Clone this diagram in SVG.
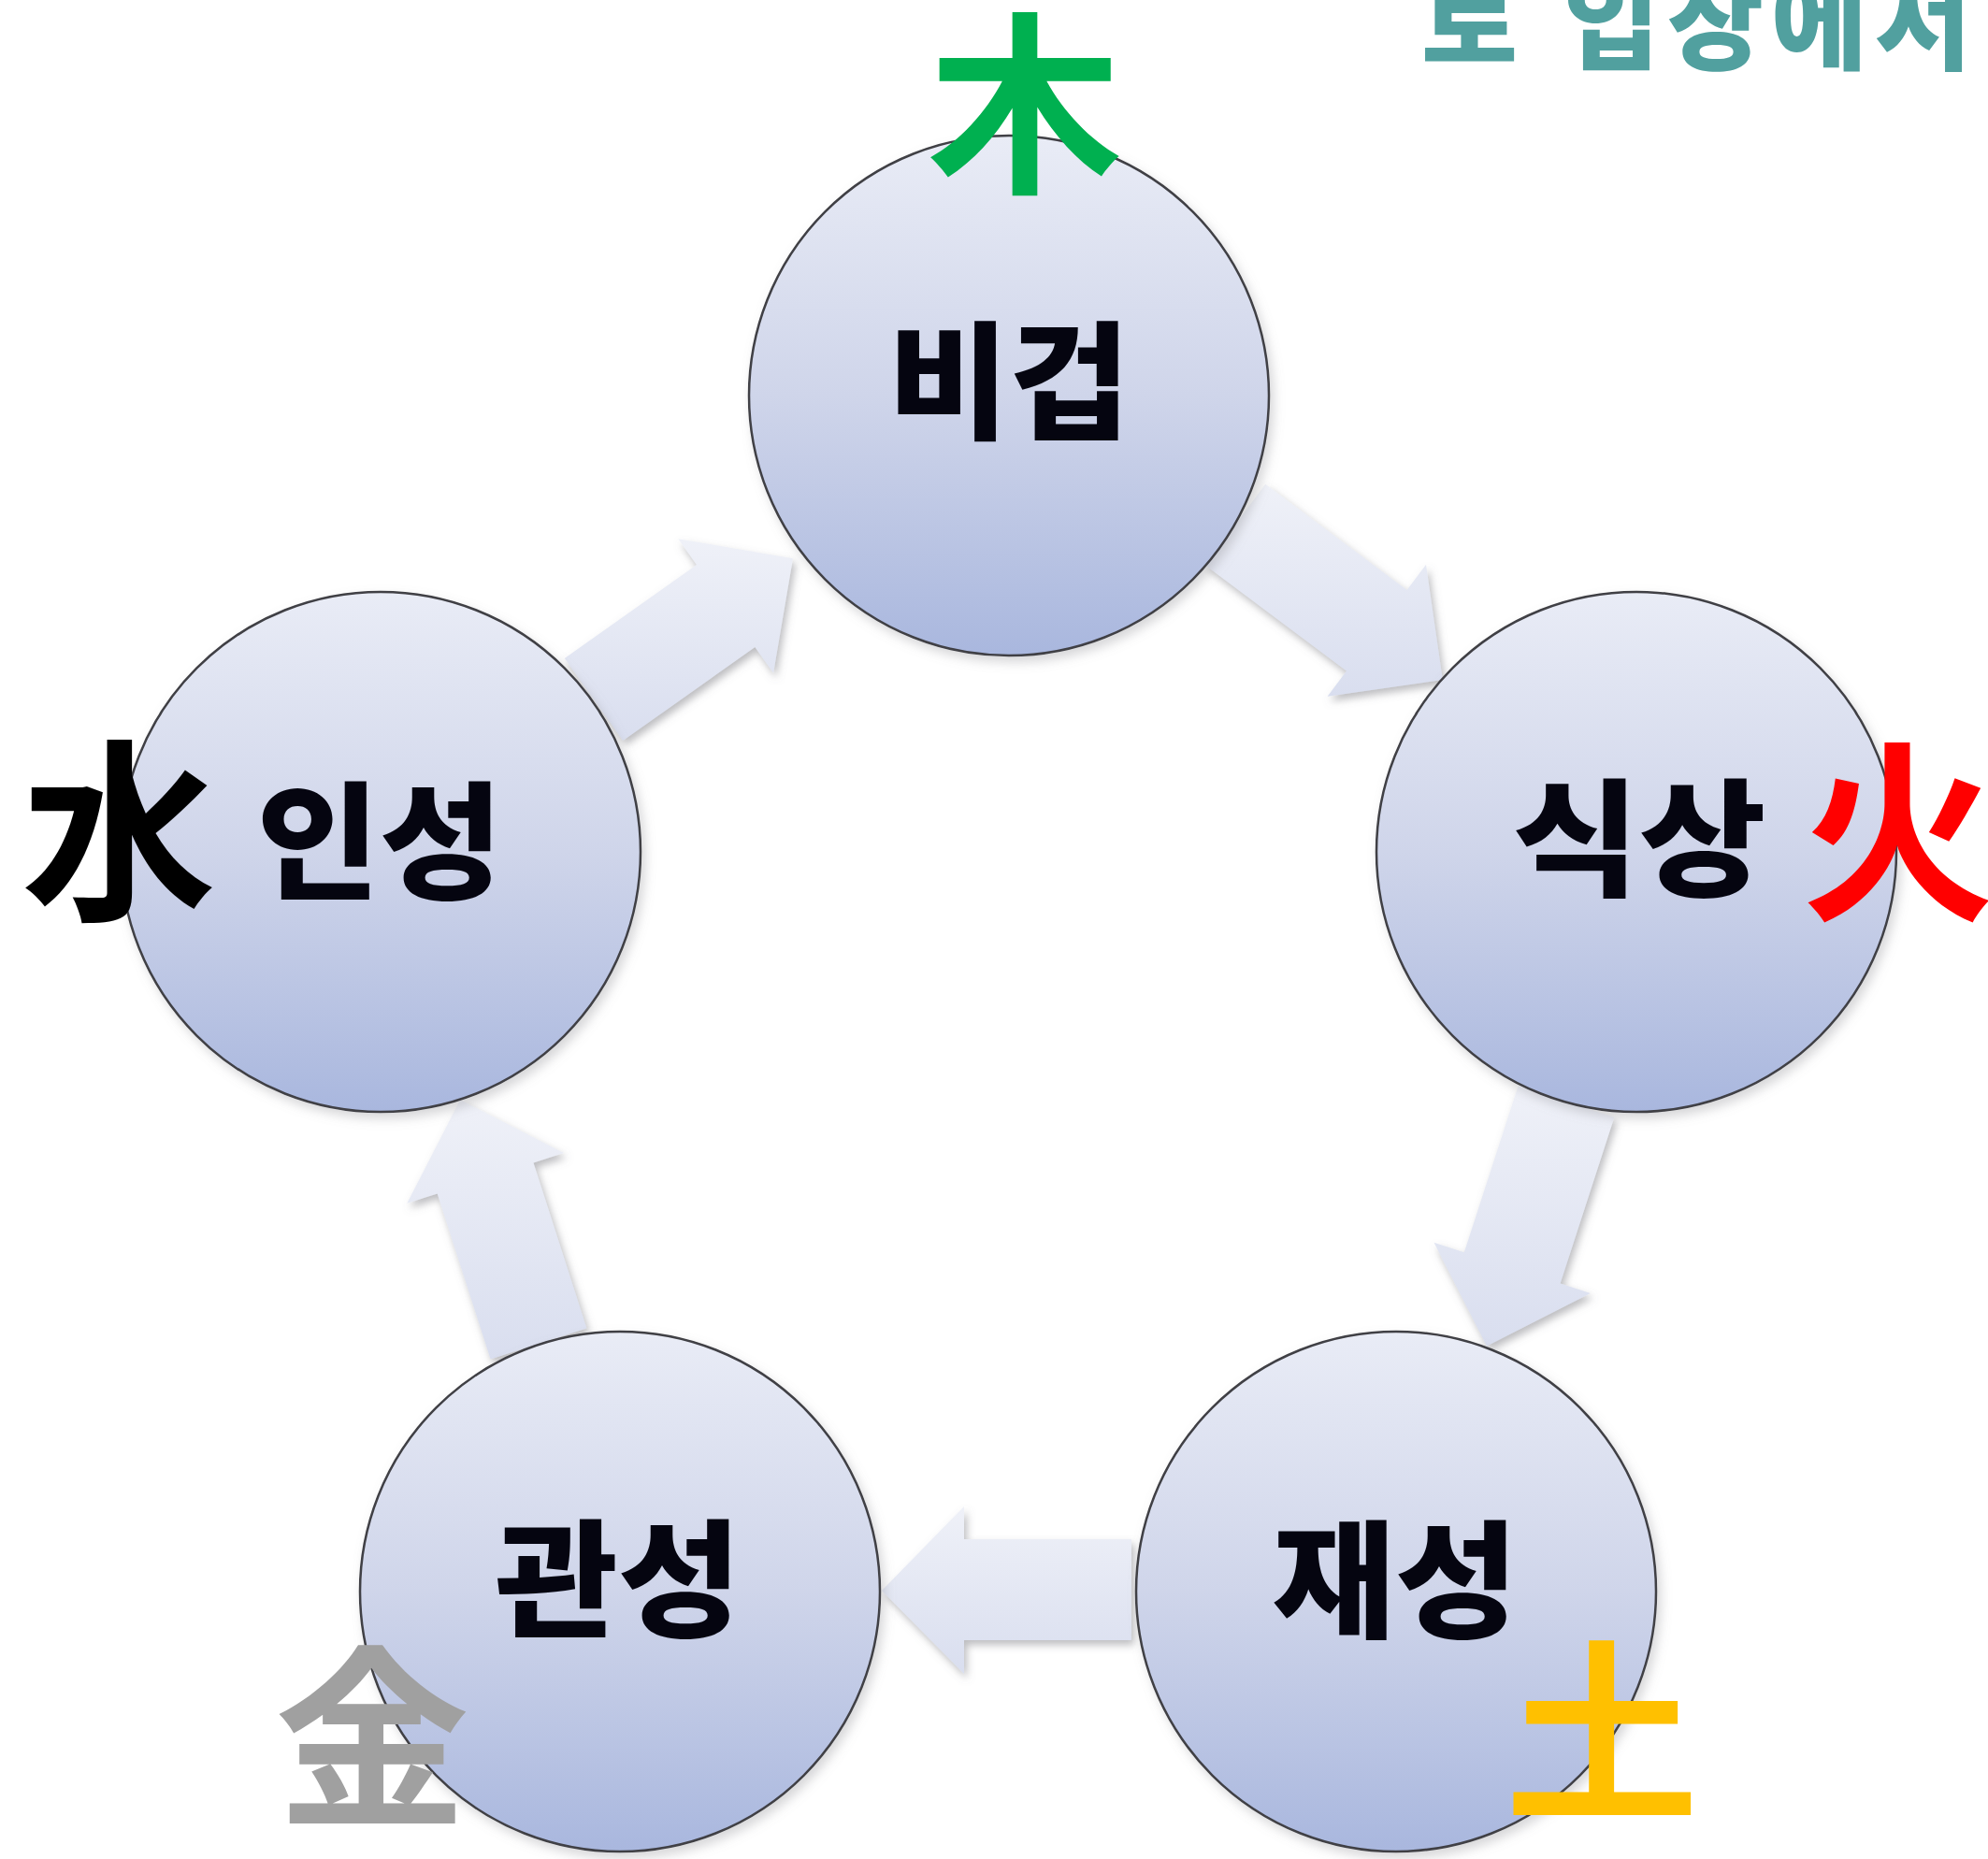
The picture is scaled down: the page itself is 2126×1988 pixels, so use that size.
<svg xmlns="http://www.w3.org/2000/svg" width="2126" height="1988" viewBox="0 0 2126 1988">
  <defs>
    <linearGradient id="circleGrad" x1="0" y1="0" x2="0" y2="1">
      <stop offset="0" stop-color="#e9ecf6"/>
      <stop offset="0.5" stop-color="#cfd5ea"/>
      <stop offset="1" stop-color="#a9b7de"/>
    </linearGradient>
    <linearGradient id="arrowGrad" x1="0" y1="0" x2="0" y2="1">
      <stop offset="0" stop-color="#eff1f8"/>
      <stop offset="1" stop-color="#d9deef"/>
    </linearGradient>
    <filter id="arrowShadow" x="-20%" y="-20%" width="140%" height="140%">
      <feDropShadow dx="3" dy="5" stdDeviation="4" flood-color="#7a7a80" flood-opacity="0.5"/>
    </filter>
    <filter id="circleShadow" x="-10%" y="-10%" width="125%" height="125%">
      <feDropShadow dx="4" dy="6" stdDeviation="6" flood-color="#8a8a90" flood-opacity="0.35"/>
    </filter>
  </defs>
  <style>
    .arrow { fill: url(#arrowGrad); filter: url(#arrowShadow); }
    .node { fill: url(#circleGrad); stroke: #3f3f44; stroke-width: 2.5; filter: url(#circleShadow); }
    .label { font-family: "Noto Sans CJK KR", "Noto Sans", sans-serif; font-size: 136px; font-weight: 900; fill: #050510; text-anchor: middle; }
    .elem { font-family: "Noto Sans CJK KR", "Noto Sans CJK SC", sans-serif; font-size: 208px; font-weight: 700; text-anchor: middle; }
    .title { font-family: "Noto Sans CJK KR", sans-serif; font-size: 112px; font-weight: 900; fill: #51a09f; }
  </style>
  <rect width="2126" height="1988" fill="#ffffff"/>

  <g id="title">
    <text class="title" x="1520" y="66">로</text>
    <text class="title" x="1672" y="66" textLength="436" lengthAdjust="spacing">입장에서</text>
  </g>

  <g id="connectors">
    <polygon class="arrow" points="1353.3,517.8 1504.6,631.0 1525.0,603.7 1542.8,726.9 1419.6,744.7 1440.0,717.4 1288.7,604.2"/>
    <polygon class="arrow" points="1726.4,1194.7 1668.6,1372.6 1700.9,1383.1 1590,1439.6 1533.5,1328.7 1565.8,1339.2 1623.6,1161.3"/>
    <polygon class="arrow" points="1210,1754 1031,1754 1031,1790 943,1701 1031,1611 1031,1646 1210,1646"/>
    <polygon class="arrow" points="524.6,1453.5 467.7,1276.4 435.3,1286.8 492.2,1176.1 602.9,1233.0 570.5,1243.4 627.4,1420.5"/>
    <polygon class="arrow" points="603.8,703.9 745.0,603.9 725.3,576.2 848,597.2 827.1,719.8 807.4,692.1 666.2,792.1"/>
  </g>

  <g id="node-bigeop">
    <circle class="node" cx="1079" cy="423" r="278"/>
    <text class="label" x="1079" y="459" textLength="259" lengthAdjust="spacingAndGlyphs">비겁</text>
    <text class="elem" x="1096" y="190" fill="#00b050">木</text>
  </g>

  <g id="node-siksang">
    <circle class="node" cx="1750" cy="911" r="278"/>
    <text class="label" x="1753" y="948" textLength="271" lengthAdjust="spacingAndGlyphs">식상</text>
    <text class="elem" x="2030" y="968" fill="#ff0000">火</text>
  </g>

  <g id="node-jaeseong">
    <circle class="node" cx="1493" cy="1702" r="278"/>
    <text class="label" x="1492" y="1741" textLength="263" lengthAdjust="spacingAndGlyphs">재성</text>
    <text class="elem" x="1713" y="1931" fill="#ffc000">土</text>
  </g>

  <g id="node-gwanseong">
    <circle class="node" cx="663" cy="1702" r="278"/>
    <text class="label" x="661" y="1740" textLength="263" lengthAdjust="spacingAndGlyphs">관성</text>
    <text class="elem" x="398" y="1937" fill="#a0a0a0">金</text>
  </g>

  <g id="node-inseong">
    <circle class="node" cx="407" cy="911" r="278"/>
    <text class="label" x="406" y="951" textLength="263" lengthAdjust="spacingAndGlyphs">인성</text>
    <text class="elem" x="127" y="968" fill="#000000">水</text>
  </g>
</svg>
